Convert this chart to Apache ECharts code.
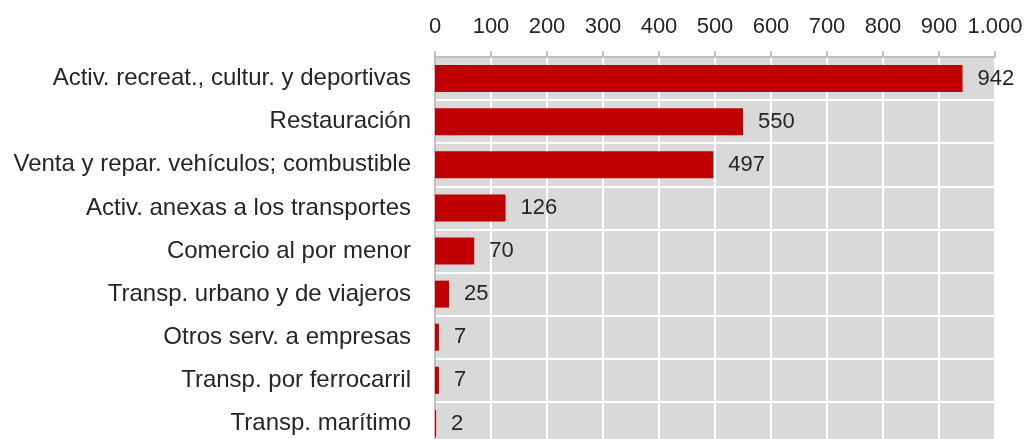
<!DOCTYPE html>
<html>
<head>
<meta charset="utf-8">
<script src="https://cdn.jsdelivr.net/npm/echarts@6/dist/echarts.min.js"></script>
<style>
  html, body { margin: 0; padding: 0; background: #fff; }
  #chart { width: 1025px; height: 439px; }
</style>
</head>
<body>
<div id="chart"></div>
<script>
// categories, top to bottom
var categories = [
  "Activ. recreat., cultur. y deportivas",
  "Restauración",
  "Venta y repar. vehículos; combustible",
  "Activ. anexas a los transportes",
  "Comercio al por menor",
  "Transp. urbano y de viajeros",
  "Otros serv. a empresas",
  "Transp. por ferrocarril",
  "Transp. marítimo"
];
var values = [942, 550, 497, 126, 70, 25, 7, 7, 2];
var tickLabels = ["0", "100", "200", "300", "400", "500", "600", "700", "800", "900", "1.000"];

var textColor = "#262626";
var fontFam = "Liberation Sans, Arial, sans-serif";

var chart = echarts.init(document.getElementById("chart"));
chart.setOption({
  animation: false,
  grid: {
    left: 435,
    right: 30,
    top: 57,
    height: 388,
    outerBoundsMode: "none",
    show: true,
    backgroundColor: "#D9D9D9",
    borderWidth: 0
  },
  xAxis: {
    type: "value",
    position: "top",
    min: 0,
    max: 1000,
    interval: 100,
    axisLine: { show: true, lineStyle: { color: "#BFBFBF", width: 2 } },
    axisTick: { show: true, length: 6, lineStyle: { color: "#BFBFBF", width: 2 } },
    axisLabel: {
      margin: 19,
      color: textColor,
      fontSize: 22,
      fontFamily: fontFam,
      formatter: function (v) { return tickLabels[Math.round(v / 100)]; }
    },
    splitLine: { show: true, lineStyle: { color: "#FFFFFF", width: 2 } }
  },
  yAxis: {
    type: "category",
    inverse: true,
    data: categories,
    axisLine: { show: true, lineStyle: { color: "#BFBFBF", width: 2 } },
    axisTick: { show: false },
    axisLabel: {
      margin: 24,
      color: textColor,
      fontSize: 24,
      fontFamily: fontFam
    },
    splitLine: { show: true, lineStyle: { color: "#FFFFFF", width: 2 } }
  },
  series: [{
    type: "bar",
    data: values,
    barWidth: 27,
    itemStyle: { color: "#C00000" },
    label: {
      show: true,
      position: "right",
      distance: 15,
      color: textColor,
      fontSize: 22,
      fontFamily: fontFam
    }
  }]
});
</script>
</body>
</html>
